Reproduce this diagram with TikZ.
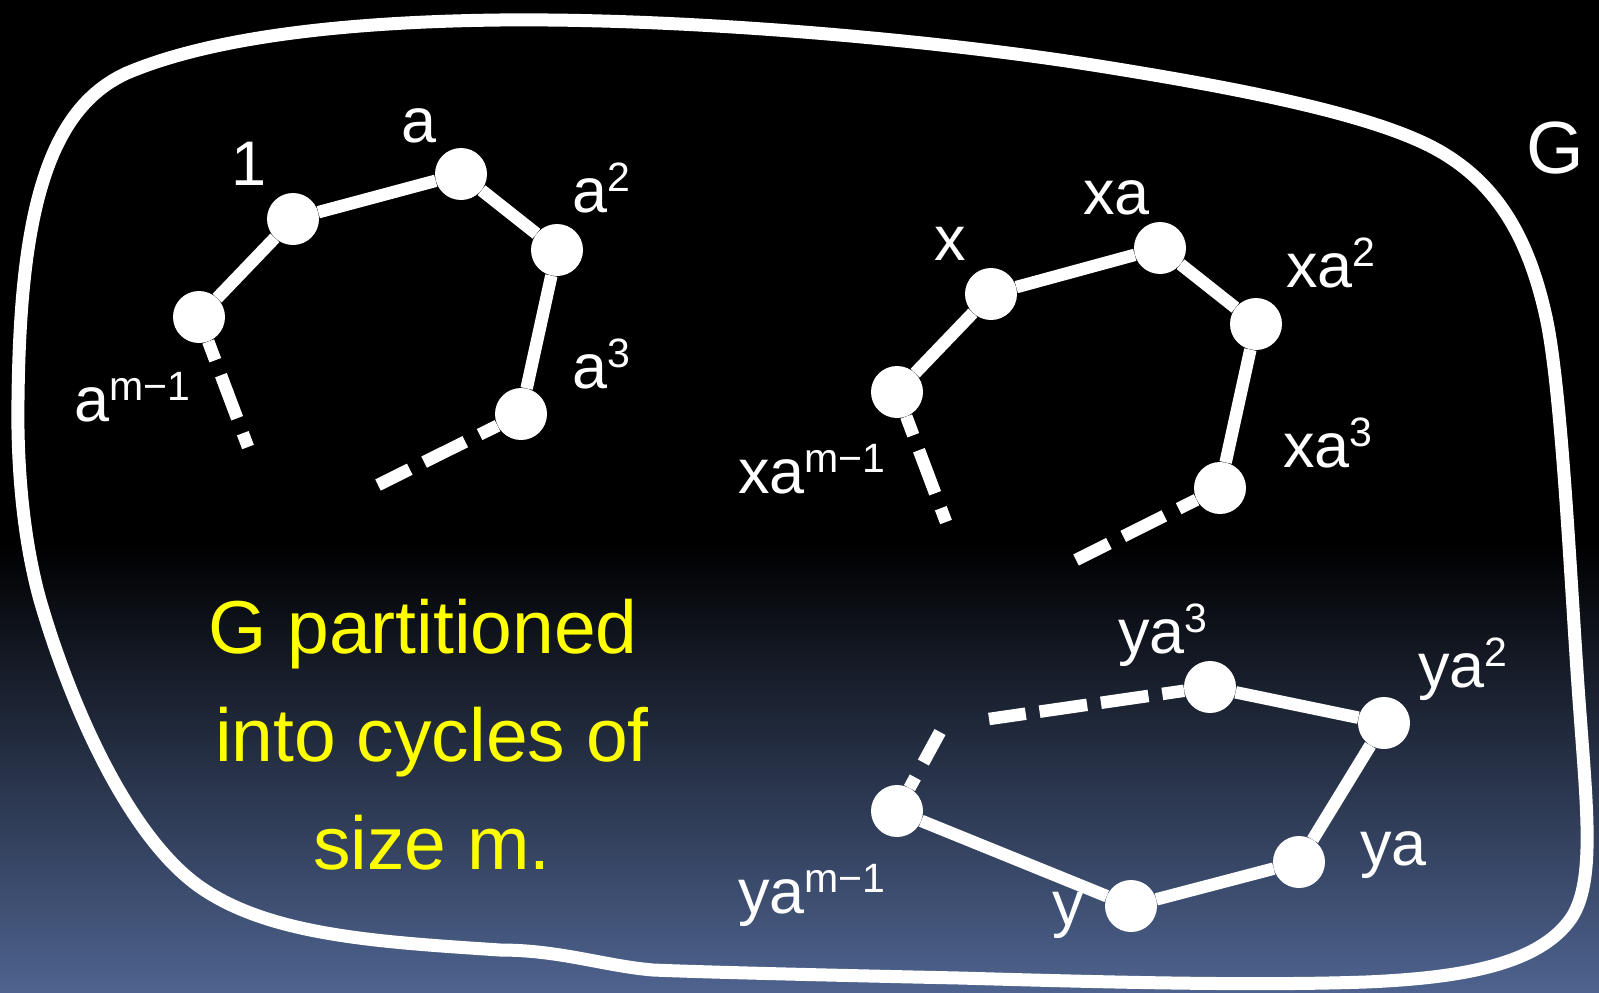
\documentclass[tikz,border=0pt]{standalone}
\usepackage{fontspec}
\setmainfont{Liberation Sans}
\definecolor{bgblue}{RGB}{78,99,143}
\definecolor{ylw}{RGB}{255,255,0}
\newcommand\sups[1]{\raisebox{21pt}{\fontsize{41}{41}\selectfont #1}}
\begin{document}
\begin{tikzpicture}[x=1pt,y=-1pt,
  vert/.style={circle,fill=white,minimum size=52pt,inner sep=0pt},
  lbl/.style={text=white,anchor=base west,inner sep=0pt,font=\fontsize{63}{63}\selectfont},
  ytxt/.style={text=ylw,anchor=base,inner sep=0pt,font=\fontsize{75}{75}\selectfont},
  edge/.style={white,line width=12.5pt},
  dashedge/.style={white,line width=12.5pt,dash pattern=on 46pt off 16pt,dash phase=26pt},
  outline/.style={white,line width=13pt,line join=round}]
\useasboundingbox (0,0) rectangle (1599,993);
\fill[black] (0,0) rectangle (1599,545);
\shade[top color=black,bottom color=bgblue] (0,544) rectangle (1599,993);
% outline of G
\draw[outline] (18,400)
  .. controls (20,220) and (45,110) .. (127,73)
  .. controls (205,40) and (330,22) .. (500,20)
  .. controls (700,18) and (950,42) .. (1099,66)
  .. controls (1250,90) and (1370,115) .. (1432,147)
  .. controls (1495,180) and (1528,235) .. (1546,317)
  .. controls (1562,390) and (1571,590) .. (1579,700)
  .. controls (1587,810) and (1595,880) .. (1572,917)
  .. controls (1540,965) and (1460,978) .. (1366,982)
  .. controls (1250,986) and (1100,982) .. (959,978)
  .. controls (820,975) and (700,972) .. (653,970)
  .. controls (605,966) and (560,950) .. (500,950)
  .. controls (380,942) and (270,936) .. (200,887)
  .. controls (130,838) and (72,710) .. (40,600)
  .. controls (22,535) and (17,460) .. (18,400) -- cycle;
% cycle 1
\node[vert] (n1) at (293,219) {};
\node[vert] (na) at (461,174) {};
\node[vert] (na2) at (557,250) {};
\node[vert] (na3) at (521,414) {};
\node[vert] (nam) at (199,317) {};
\coordinate (e1a) at (248,447);
\coordinate (e1b) at (378,485);
\draw[edge] (nam) -- (n1);
\draw[edge] (n1) -- (na);
\draw[edge] (na) -- (na2);
\draw[edge] (na2) -- (na3);
\draw[dashedge] (nam) -- (e1a);
\draw[dashedge] (na3) -- (e1b);
% cycle 2
\node[vert] (x1) at (991,294) {};
\node[vert] (xa) at (1160,248) {};
\node[vert] (xa2) at (1256,324) {};
\node[vert] (xa3) at (1220,488) {};
\node[vert] (xam) at (897,392) {};
\coordinate (e2a) at (946,522);
\coordinate (e2b) at (1076,560);
\draw[edge] (xam) -- (x1);
\draw[edge] (x1) -- (xa);
\draw[edge] (xa) -- (xa2);
\draw[edge] (xa2) -- (xa3);
\draw[dashedge] (xam) -- (e2a);
\draw[dashedge] (xa3) -- (e2b);
% cycle 3
\node[vert] (ya3) at (1210,687) {};
\node[vert] (ya2) at (1384,723) {};
\node[vert] (ya) at (1299,862) {};
\node[vert] (y1) at (1131,906) {};
\node[vert] (yam) at (897,811) {};
\coordinate (e3a) at (989,719);
\coordinate (e3b) at (940,732);
\draw[edge] (ya3) -- (ya2);
\draw[edge] (ya2) -- (ya);
\draw[edge] (ya) -- (y1);
\draw[edge] (y1) -- (yam);
\draw[dashedge,dash pattern=on 48pt off 14pt] (ya3) -- (e3a);
\draw[dashedge,dash pattern=on 38pt off 17pt] (yam) -- (e3b);
% labels
\node[lbl] (l1) at (231,185) {1};
\node[lbl] (la) at (401,142) {a};
\node[lbl] (la2) at (572,212) {a\sups{2}};
\node[lbl] (la3) at (572,388) {a\sups{3}};
\node[lbl] (lam) at (74,421) {a\sups{m−1}};
\node[lbl] (lx) at (934,260) {x};
\node[lbl] (lxa) at (1083,214) {xa};
\node[lbl] (lxa2) at (1286,287) {xa\sups{2}};
\node[lbl] (lxa3) at (1283,467) {xa\sups{3}};
\node[lbl] (lxam) at (738,493) {xa\sups{m−1}};
\node[lbl] (lya3) at (1118,653) {ya\sups{3}};
\node[lbl] (lya2) at (1418,687) {ya\sups{2}};
\node[lbl] (lya) at (1360,865) {ya};
\node[lbl] (ly) at (1052,925) {y};
\node[lbl] (lyam) at (738,913) {ya\sups{m−1}};
\node[lbl,font=\fontsize{74}{74}\selectfont] (lG) at (1526,173) {G};
% yellow text
\node[ytxt] (t1) at (423,653) {G partitioned};
\node[ytxt] (t2) at (432,761) {into cycles of};
\node[ytxt] (t3) at (432,869) {size m.};
\end{tikzpicture}
\end{document}
